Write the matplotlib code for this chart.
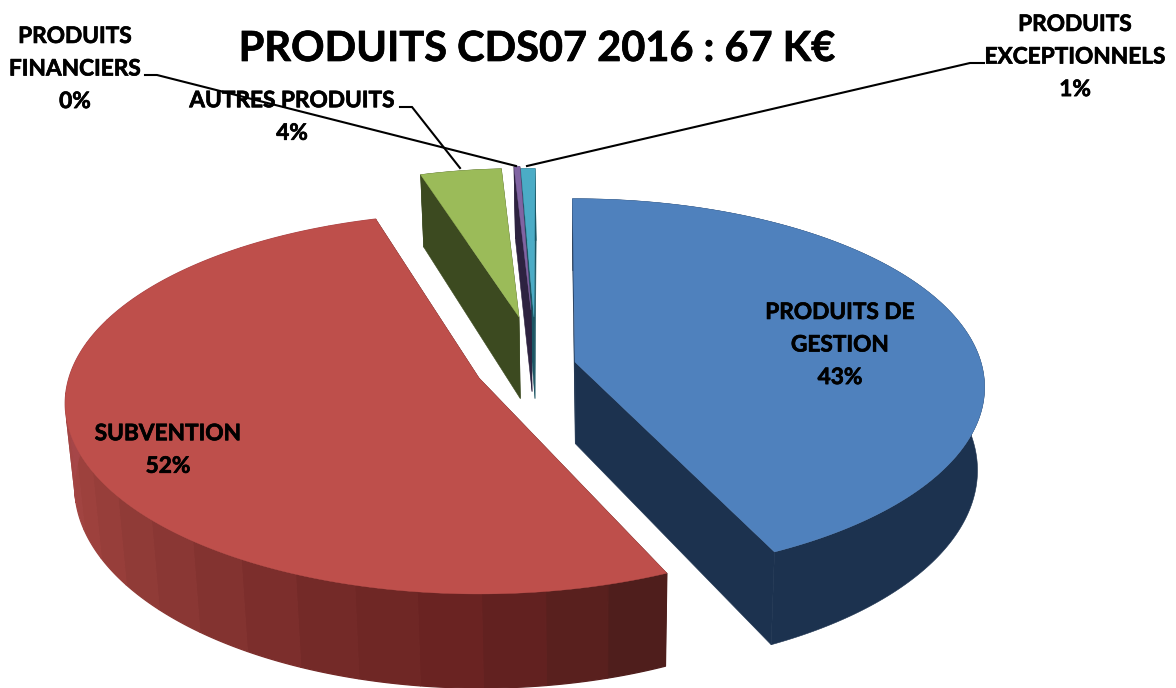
import numpy as np
import matplotlib
matplotlib.use("Agg")
import matplotlib.pyplot as plt
import matplotlib.patheffects as pe
from matplotlib.patches import Polygon
from matplotlib.colors import to_rgb

# ---- data ----
title = "PRODUITS CDS07 2016 : 67 K€"
categories = ["PRODUITS DE\nGESTION", "SUBVENTION", "AUTRES PRODUITS", "PRODUITS\nFINANCIERS", "PRODUITS\nEXCEPTIONNELS"]
shares = [43.0, 52.0, 4.0, 0.3, 0.7]
pct_labels = ["43%", "52%", "4%", "0%", "1%"]

# ---- styles / layout (pixel frame of the 1176x688 picture) ----
top_colors = ["#4F81BD", "#BE4F4B", "#9BBB59", "#8064A2", "#4BACC6"]
side_colors = ["#1C324F", None, "#3C4A20", "#2D2240", "#1B5563"]
apex = [(575, 362), (479, 378), (519, 317), (531, 310), (534, 317)]
scale = [0.99, 1.0, 0.90, 0.87, 0.90]
rot = [-0.4, 1.5, 0.5, 0.5, 0.2]
draw_order = [4, 3, 2, 0, 1]
A, B, K, DEPTH = 410.0, 187.0, -0.134, 81.6
VX, SHRINK = 590.0, 0.018
red_stops_a = [156, 180, 200, 220, 250, 275]
red_stops_c = ["#4A1D1B", "#672221", "#752A28", "#883633", "#A0433F", "#A8474A"]

fig = plt.figure(figsize=(11.76, 6.88), dpi=100, facecolor="white")
ax = fig.add_axes([0, 0, 1, 1])
ax.set_xlim(0, 1176)
ax.set_ylim(688, 0)
ax.axis("off")


def project(theta, ap, s, low=False):
    """Clockwise angle from the top of the pie -> picture position."""
    t = np.radians(theta)
    u, v = np.sin(t), -np.cos(t)
    d = 1 + K * v
    x = ap[0] + s * A * u / d
    y = ap[1] + s * B * v / d
    if low:
        y = y + DEPTH / d
        x = VX + (x - VX) * (1 - SHRINK)
    return np.column_stack([np.atleast_1d(x), np.atleast_1d(y)])


def apex_low(ap):
    return np.array([[VX + (ap[0] - VX) * (1 - SHRINK), ap[1] + DEPTH]])


def red_side(angle):
    cs = np.array([to_rgb(c) for c in red_stops_c])
    return tuple(np.interp(angle, red_stops_a, cs[:, i]) for i in range(3))


cum = np.concatenate([[0], np.cumsum(shares)]) / np.sum(shares) * 360
for i in draw_order:
    a0, a1 = cum[i] + rot[i], cum[i + 1] + rot[i]
    ap, s = apex[i], scale[i]
    top_pts = project(np.linspace(a0, a1, 200), ap, s)
    apt = np.array([ap], dtype=float)
    flat = side_colors[i] is not None
    base = side_colors[i] if flat else red_side(160)
    for a in (a0, a1):
        poly = np.vstack([project(a, ap, s), apt, apex_low(ap), project(a, ap, s, True)])
        ax.add_patch(Polygon(poly, closed=True, fc=base, ec=base, lw=0.4, zorder=2))
    if flat:
        th = np.linspace(a0, a1, 200)
        poly = np.vstack([project(th, ap, s), project(th[::-1], ap, s, True)])
        ax.add_patch(Polygon(poly, closed=True, fc=base, ec=base, lw=0.4, zorder=2))
    else:
        n = max(2, int((a1 - a0) / 7.5))
        edges = np.linspace(a0, a1, n + 1)
        for e0, e1 in zip(edges[:-1], edges[1:]):
            th = np.linspace(e0, e1, 12)
            c = red_side(0.5 * (e0 + e1))
            poly = np.vstack([project(th, ap, s), project(th[::-1], ap, s, True)])
            ax.add_patch(Polygon(poly, closed=True, fc=c, ec=c, lw=0.9, zorder=2))
    ax.add_patch(Polygon(np.vstack([apt, top_pts]), closed=True, fc=top_colors[i],
                         ec=top_colors[i], lw=0.3, zorder=2))

# leader lines
for xs, ys in [([145, 157, 516], [75, 75, 166]),
               ([400, 412, 460], [107, 107, 168]),
               ([984, 970, 527], [63, 63, 166])]:
    ax.plot(xs, ys, color="black", lw=1.5, zorder=3, solid_joinstyle="miter")

font = "Lato"
stroke = [pe.withStroke(linewidth=0.5, foreground="black")]
ax.text(537, 49, title, ha="center", va="center", family=font, weight="bold", fontsize=29.9,
        color="black", zorder=4, path_effects=stroke)
label_pos = [(840, 345), (168, 450), (292, 117), (75, 69), (1075, 57)]
for name, pct, (x, y) in zip(categories, pct_labels, label_pos):
    ax.text(x, y, f"{name}\n{pct}", ha="center", va="center", family=font, weight="bold",
            fontsize=16.3, color="black", linespacing=1.68, zorder=4, path_effects=stroke)

fig.savefig("out.png", dpi=100, facecolor="white")
